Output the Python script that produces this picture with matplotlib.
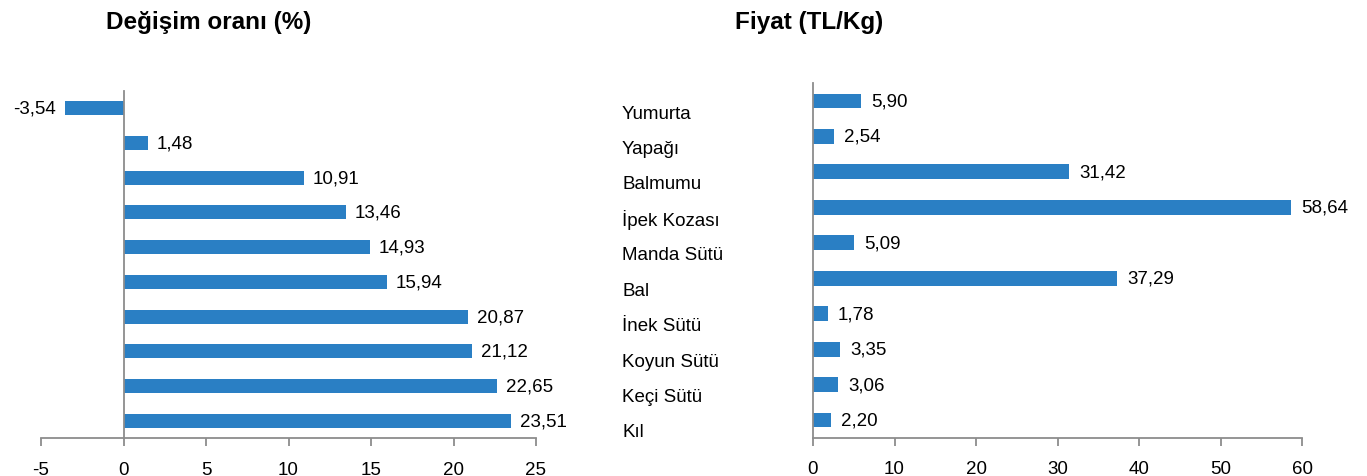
import matplotlib
matplotlib.use("Agg")
import matplotlib.pyplot as plt
import matplotlib.transforms as mtransforms

plt.rcParams['font.family'] = ['Liberation Sans', 'DejaVu Sans']

change_values = [-3.54, 1.48, 10.91, 13.46, 14.93, 15.94, 20.87, 21.12, 22.65, 23.51]
products = ["Yumurta", "Yapağı", "Balmumu", "İpek Kozası", "Manda Sütü", "Bal",
            "İnek Sütü", "Koyun Sütü", "Keçi Sütü", "Kıl"]
prices = [5.90, 2.54, 31.42, 58.64, 5.09, 37.29, 1.78, 3.35, 3.06, 2.20]
left_ticks = [-5, 0, 5, 10, 15, 20, 25]
right_ticks = [0, 10, 20, 30, 40, 50, 60]
title_left = "Değişim oranı (%)"
title_right = "Fiyat (TL/Kg)"

W, H = 1367, 477
fig = plt.figure(figsize=(W / 100, H / 100), dpi=100)

bar_color = "#2a7fc4"
axis_color = "#8c8c8c"
fs = 13.5


def fmt(v):
    return f"{v:.2f}".replace(".", ",")


def style(ax):
    for s in ["top", "right"]:
        ax.spines[s].set_visible(False)
    for s in ["left", "bottom"]:
        ax.spines[s].set_color(axis_color)
        ax.spines[s].set_linewidth(1.3)
    ax.tick_params(axis="x", direction="out", length=6, color=axis_color, width=1.3,
                   labelsize=fs, pad=10)
    ax.tick_params(axis="y", length=0)


# Left chart
axL = fig.add_axes([41 / W, 1 - 439.4 / H, (536 - 41) / W, (439.4 - 91.6) / H])
n = len(change_values)
posL = list(range(n - 1, -1, -1))
axL.barh(posL, change_values, height=0.40, color=bar_color)
axL.set_xlim(-5, 25)
axL.set_ylim(-0.5, n - 0.5)
axL.set_xticks(left_ticks)
axL.set_xticklabels([str(t) for t in left_ticks])
axL.set_yticks([])
style(axL)
axL.spines["left"].set_position(("data", 0))
for p, v in zip(posL, change_values):
    off = 9 if v >= 0 else -9
    axL.annotate(fmt(v), (v, p), xytext=(off, 0), textcoords="offset pixels",
                 ha="left" if v >= 0 else "right", va="center", fontsize=fs)
fig.text(209 / W, 1 - 23 / H, title_left, ha="center", va="center",
         fontsize=17.5, fontweight="bold")

# Right chart
axR = fig.add_axes([813 / W, 1 - 438.7 / H, (1302 - 813) / W, (438.7 - 84.3) / H])
posR = list(range(n - 1, -1, -1))
axR.barh(posR, prices, height=0.42, color=bar_color)
axR.set_xlim(0, 60)
axR.set_ylim(-0.5, n - 0.5)
axR.set_xticks(right_ticks)
axR.set_xticklabels([str(t) for t in right_ticks])
axR.set_yticks(posR)
axR.set_yticklabels(products, ha="left", fontsize=fs)
style(axR)
axR.tick_params(axis="y", pad=(813 - 622) * 0.72)
offset = mtransforms.ScaledTranslation(0, -10 / 100, fig.dpi_scale_trans)
for lab in axR.get_yticklabels():
    lab.set_transform(lab.get_transform() + offset)
for p, v in zip(posR, prices):
    axR.annotate(fmt(v), (v, p), xytext=(10, 0), textcoords="offset pixels",
                 ha="left", va="center", fontsize=fs)
fig.text(809 / W, 1 - 23 / H, title_right, ha="center", va="center",
         fontsize=17.5, fontweight="bold")

fig.savefig("out.png", dpi=100, facecolor="white")
